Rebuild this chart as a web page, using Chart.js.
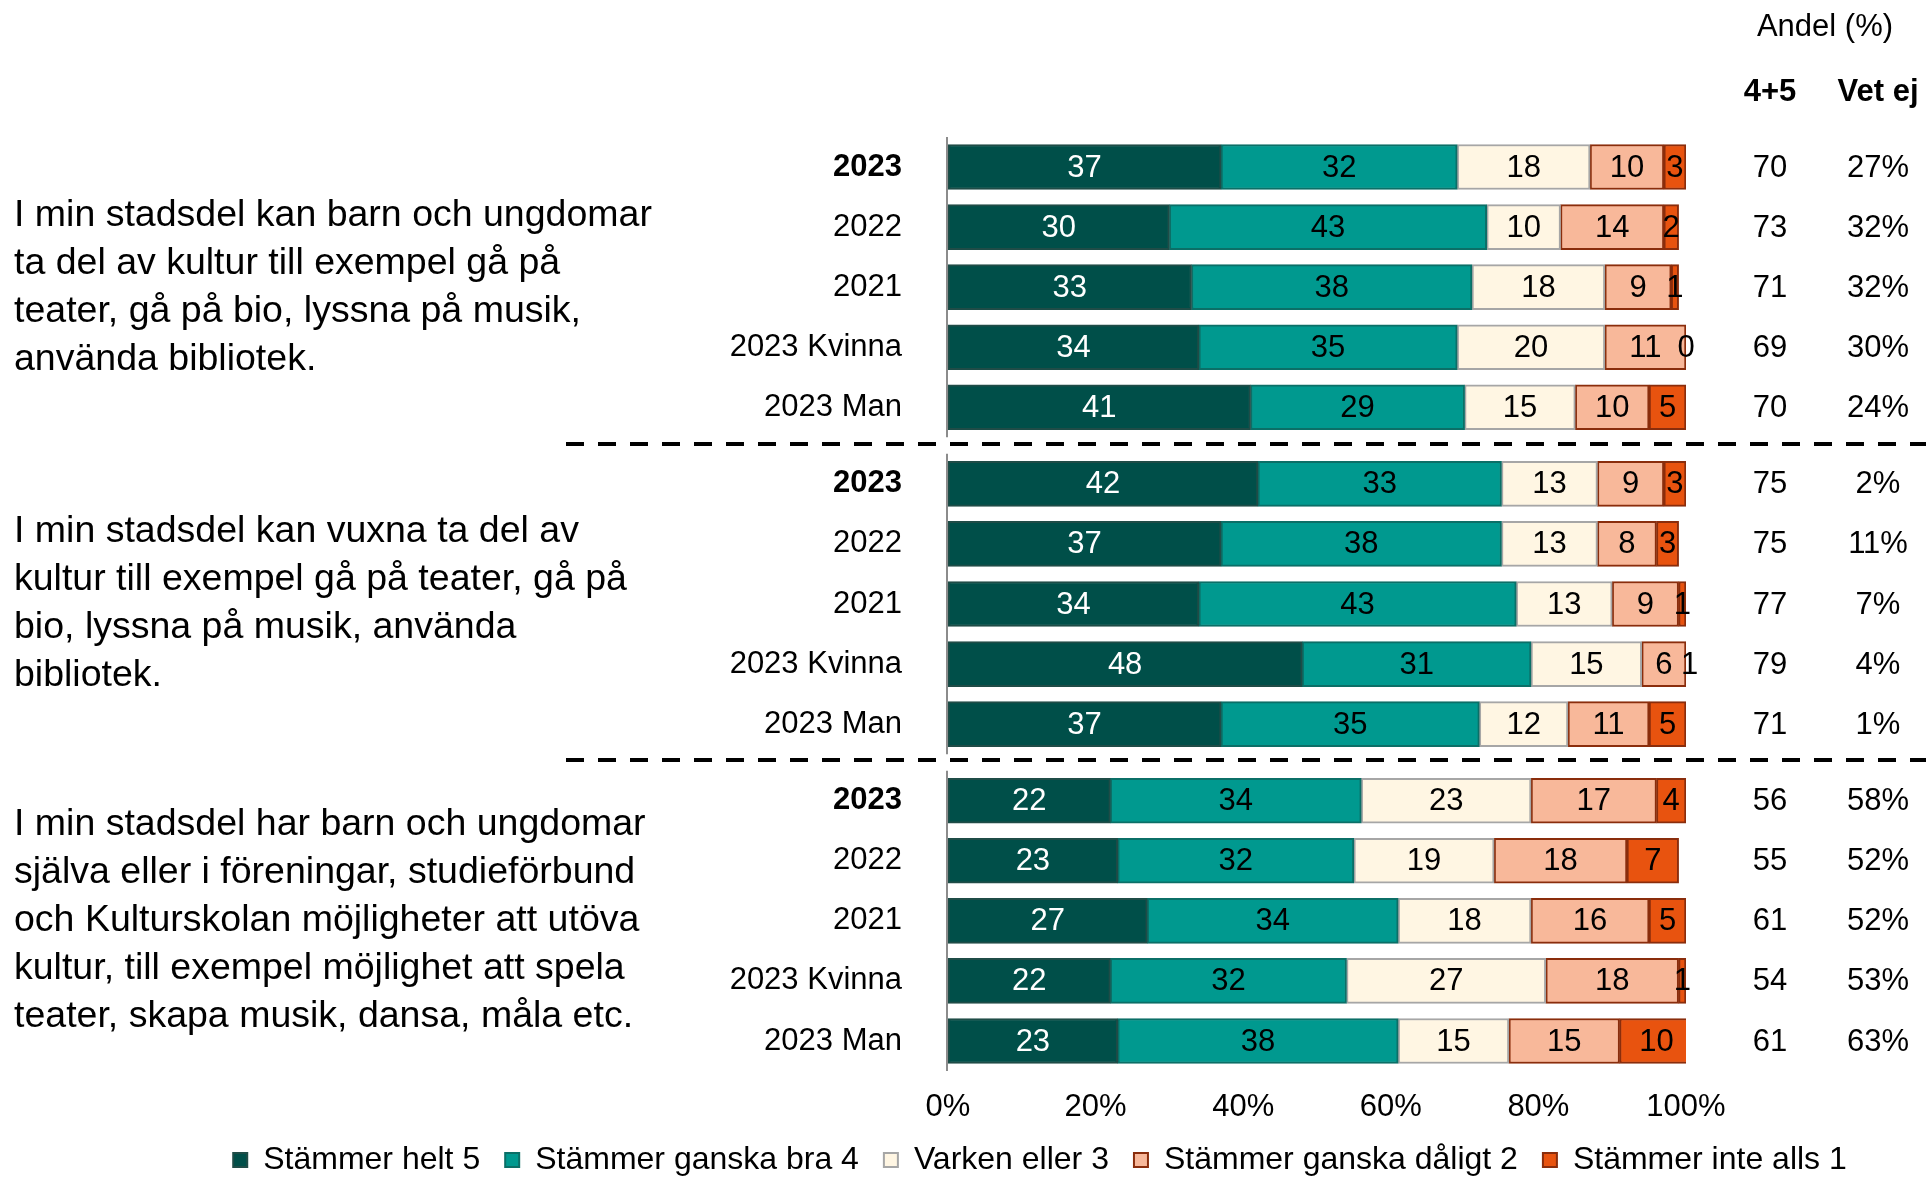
<!DOCTYPE html>
<html>
<head>
<meta charset="utf-8">
<script src="https://cdn.jsdelivr.net/npm/chart.js@4/dist/chart.umd.min.js"></script>
<style>
  html, body { margin: 0; padding: 0; background: #ffffff; }
  #wrap { width: 1926px; height: 1177px; position: relative; }
</style>
</head>
<body>
<div id="wrap"><canvas id="chart" width="1926" height="1177"></canvas></div>
<script>
// Survey statements (wrapped lines)
const questions = [
  ['I min stadsdel kan barn och ungdomar', 'ta del av kultur till exempel gå på', 'teater, gå på bio, lyssna på musik,', 'använda bibliotek.'],
  ['I min stadsdel kan vuxna ta del av', 'kultur till exempel gå på teater, gå på', 'bio, lyssna på musik, använda', 'bibliotek.'],
  ['I min stadsdel har barn och ungdomar', 'själva eller i föreningar, studieförbund', 'och Kulturskolan möjligheter att utöva', 'kultur, till exempel möjlighet att spela', 'teater, skapa musik, dansa, måla etc.']
];

// Row labels, repeated for each statement
const rowLabels = ['2023', '2022', '2021', '2023 Kvinna', '2023 Man'];

// Answer shares (%), 5 rows per statement
const helt5    = [37, 30, 33, 34, 41,  42, 37, 34, 48, 37,  22, 23, 27, 22, 23];
const bra4     = [32, 43, 38, 35, 29,  33, 38, 43, 31, 35,  34, 32, 34, 32, 38];
const varken3  = [18, 10, 18, 20, 15,  13, 13, 13, 15, 12,  23, 19, 18, 27, 15];
const daligt2  = [10, 14,  9, 11, 10,   9,  8,  9,  6, 11,  17, 18, 16, 18, 15];
const inteAlls = [ 3,  2,  1,  0,  5,   3,  3,  1,  1,  5,   4,  7,  5,  1, 10];

// Summary columns
const andel45 = [70, 73, 71, 69, 70,  75, 75, 77, 79, 71,  56, 55, 61, 54, 61];
const vetEj   = [27, 32, 32, 30, 24,   2, 11,  7,  4,  1,  58, 52, 52, 53, 63];

// Value-axis ticks
const xTicks = [0, 20, 40, 60, 80, 100];

const seriesNames = ['Stämmer helt 5', 'Stämmer ganska bra 4', 'Varken eller 3', 'Stämmer ganska dåligt 2', 'Stämmer inte alls 1'];
const seriesValues = [helt5, bra4, varken3, daligt2, inteAlls];
const fills   = ['#004F49', '#00998F', '#FFF6E3', '#F8B89A', '#E8530F'];
const borders = ['#1F4C47', '#0B6F67', '#A6A6A6', '#8A2D0C', '#8A2D0C'];
const labelColors = ['#ffffff', '#000000', '#000000', '#000000', '#000000'];

const FONT = "'Liberation Sans', Arial, Helvetica, sans-serif";
const ROWS = rowLabels.length;
const GROUPS = questions.length;
const GROUP_STEP = 5.275;            // row slots per statement incl. gap
const rowPos = i => Math.floor(i / ROWS) * GROUP_STEP + (i % ROWS);
const rowIndexAt = v => {
  for (let i = 0; i < ROWS * GROUPS; i++) if (Math.abs(rowPos(i) - v) < 1e-6) return i;
  return -1;
};

const datasets = seriesValues.map((vals, s) => ({
  label: seriesNames[s],
  data: vals.map((v, i) => ({ x: v, y: rowPos(i) })),
  backgroundColor: fills[s],
  borderColor: borders[s],
  borderWidth: 2,
  borderSkipped: false,
  barThickness: 45
}));

// Per-statement axis lines, separators, value labels and side texts
const annotations = {
  id: 'annotations',
  afterDatasetsDraw(chart) {
    const { ctx } = chart;
    ctx.save();
    ctx.font = `31px ${FONT}`;
    ctx.textAlign = 'center';
    ctx.textBaseline = 'middle';
    chart.data.datasets.forEach((ds, s) => {
      const meta = chart.getDatasetMeta(s);
      meta.data.forEach((bar, i) => {
        const { x, y, base } = bar.getProps(['x', 'y', 'base'], true);
        ctx.fillStyle = labelColors[s];
        ctx.fillText(String(seriesValues[s][i]), (x + base) / 2, y + 1);
      });
    });
    ctx.restore();
  },
  afterDraw(chart) {
    const { ctx, chartArea } = chart;
    const y = chart.scales.y;
    ctx.save();

    // axis line for each statement block
    ctx.strokeStyle = '#8C8C8C';
    ctx.lineWidth = 2;
    for (let g = 0; g < GROUPS; g++) {
      const t = y.getPixelForValue(g * GROUP_STEP - 0.5);
      const b = y.getPixelForValue(g * GROUP_STEP + ROWS - 0.5);
      ctx.beginPath();
      ctx.moveTo(chartArea.left - 1, t);
      ctx.lineTo(chartArea.left - 1, b);
      ctx.stroke();
    }

    // dashed separators between statements
    ctx.strokeStyle = '#000000';
    ctx.lineWidth = 4;
    ctx.setLineDash([18, 14]);
    for (let g = 1; g < GROUPS; g++) {
      const mid = ((g - 1) * GROUP_STEP + ROWS - 1 + g * GROUP_STEP) / 2;
      const py = Math.round(y.getPixelForValue(mid)) - 2;
      ctx.beginPath();
      ctx.moveTo(566, py);
      ctx.lineTo(chart.width, py);
      ctx.stroke();
    }
    ctx.setLineDash([]);

    // statement texts on the left
    ctx.fillStyle = '#000000';
    ctx.textAlign = 'left';
    ctx.textBaseline = 'middle';
    ctx.font = `37.5px ${FONT}`;
    const lineH = 48;
    questions.forEach((lines, g) => {
      const center = (y.getPixelForValue(g * GROUP_STEP) + y.getPixelForValue(g * GROUP_STEP + ROWS - 1)) / 2;
      const start = center - (lines.length - 1) * lineH / 2;
      lines.forEach((ln, k) => ctx.fillText(ln, 14, start + k * lineH));
    });

    // summary columns on the right
    const colA = chartArea.right + 84;
    const colB = chartArea.right + 192;
    ctx.textAlign = 'center';
    ctx.font = `31px ${FONT}`;
    ctx.fillText('Andel (%)', (colA + colB) / 2 + 1, 27);
    ctx.font = `bold 31px ${FONT}`;
    ctx.fillText('4+5', colA, 92);
    ctx.fillText('Vet ej', colB, 92);
    ctx.font = `31px ${FONT}`;
    andel45.forEach((v, i) => {
      const py = y.getPixelForValue(rowPos(i)) + 1;
      ctx.fillText(String(v), colA, py);
      ctx.fillText(vetEj[i] + '%', colB, py);
    });
    ctx.restore();
  }
};

new Chart(document.getElementById('chart'), {
  type: 'bar',
  data: { datasets },
  plugins: [annotations],
  options: {
    indexAxis: 'y',
    responsive: false,
    animation: false,
    devicePixelRatio: 1,
    layout: { padding: { left: 154, right: 0, top: 137, bottom: 0 } },
    scales: {
      x: {
        stacked: true,
        min: 0,
        max: 100,
        afterBuildTicks: scale => { scale.ticks = xTicks.map(v => ({ value: v })); },
        afterFit: scale => { scale.height = 48; },
        grid: { display: false, drawTicks: false },
        border: { display: false },
        ticks: {
          padding: 20.5,
          color: '#000000',
          font: { family: FONT, size: 31, lineHeight: 1 },
          callback: v => v + '%'
        }
      },
      y: {
        type: 'linear',
        stacked: true,
        reverse: true,
        offset: false,
        min: -0.5,
        max: (GROUPS - 1) * GROUP_STEP + ROWS - 0.5,
        afterBuildTicks: scale => {
          scale.ticks = Array.from({ length: ROWS * GROUPS }, (_, i) => ({ value: rowPos(i) }));
        },
        afterFit: scale => { scale.width = 794; },
        grid: { display: false, drawTicks: false, offset: false },
        border: { display: false },
        ticks: {
          autoSkip: false,
          padding: 46,
          color: '#000000',
          font: c => {
            const i = rowIndexAt(c.tick ? c.tick.value : NaN);
            const bold = i >= 0 && rowLabels[i % ROWS] === '2023';
            return { family: FONT, size: 31, weight: bold ? 'bold' : 'normal' };
          },
          callback: v => {
            const i = rowIndexAt(v);
            return i >= 0 ? rowLabels[i % ROWS] : '';
          }
        }
      },
      // reserves room for the summary columns right of the bars
      ySummary: {
        axis: 'y',
        type: 'linear',
        position: 'right',
        afterFit: scale => { scale.width = 240; },
        grid: { display: false, drawTicks: false },
        border: { display: false },
        ticks: { display: false }
      }
    },
    plugins: {
      tooltip: { enabled: false },
      legend: {
        position: 'bottom',
        maxHeight: 58,
        labels: {
          color: '#000000',
          font: { family: FONT, size: 32 },
          boxWidth: 14,
          boxHeight: 14,
          padding: 25
        }
      }
    }
  }
});
</script>
</body>
</html>
